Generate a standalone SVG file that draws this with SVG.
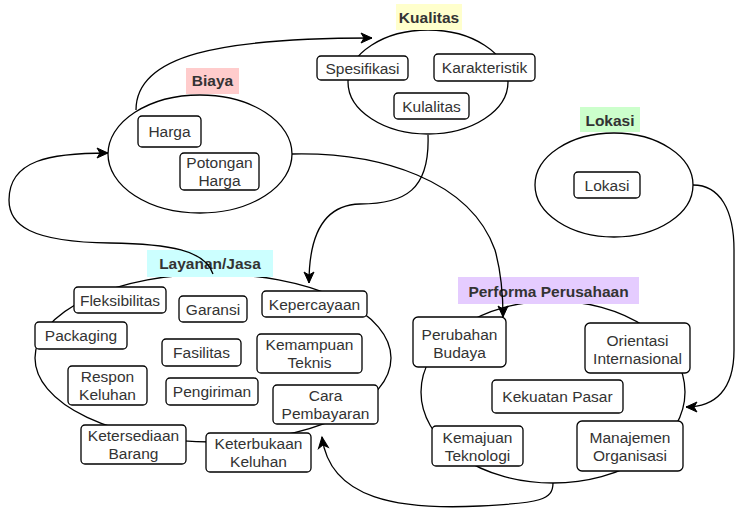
<svg xmlns="http://www.w3.org/2000/svg" width="735" height="510" viewBox="0 0 735 510">
<style>
.ell{fill:#fff;stroke:#000;stroke-width:1.3}
.box{fill:#fff;stroke:#000;stroke-width:1.3}
.t{font-family:"Liberation Sans",Arial,sans-serif;font-size:15.5px;fill:#333;text-anchor:middle}
.lb{font-family:"Liberation Sans",Arial,sans-serif;font-size:15.5px;font-weight:bold;fill:#333;text-anchor:middle}
.c{fill:none;stroke:#000;stroke-width:1.3}
</style>
<defs>
<marker id="ah" markerUnits="userSpaceOnUse" markerWidth="14" markerHeight="12" refX="11" refY="5" orient="auto" overflow="visible">
<path d="M0,0 L11,5 L0,10 L3,5 Z" fill="#000" stroke="#000" stroke-width="1"/>
</marker>
</defs>
<g id="biaya">
<ellipse class="ell" cx="200" cy="154" rx="92" ry="59"/>
<rect x="186" y="68" width="53" height="26" fill="#FFCCCC"/>
<text class="lb" x="212.5" y="86">Biaya</text>
</g>
<g id="kualitas">
<ellipse class="ell" cx="428" cy="82" rx="80" ry="52"/>
<rect x="396" y="4" width="66" height="26" fill="#FFFFCC"/>
<text class="lb" x="429" y="22.5">Kualitas</text>
</g>
<g id="lokasi">
<ellipse class="ell" cx="614" cy="185" rx="79" ry="52"/>
<rect x="580" y="107" width="60" height="25" fill="#CCFFCC"/>
<text class="lb" x="610" y="125.5">Lokasi</text>
</g>
<g id="layanan">
<ellipse class="ell" cx="213" cy="358" rx="178" ry="84"/>
<rect x="147" y="250" width="126" height="27" fill="#CCFFFF"/>
<text class="lb" x="210" y="268.5">Layanan/Jasa</text>
</g>
<g id="performa">
<ellipse class="ell" cx="553" cy="392" rx="132" ry="91"/>
<rect x="458" y="277" width="181" height="27" fill="#E5CCFF"/>
<text class="lb" x="548.5" y="296.5">Performa Perusahaan</text>
</g>
<g id="harga"><rect class="box" x="138" y="116" width="63" height="31" rx="4"/><text class="t" x="169.5" y="137">Harga</text></g>
<g id="potongan-harga"><rect class="box" x="180" y="153" width="79" height="37" rx="4"/><text class="t" x="219.5" y="168">Potongan</text><text class="t" x="219.5" y="186">Harga</text></g>
<g id="spesifikasi"><rect class="box" x="317" y="56" width="91" height="24" rx="4"/><text class="t" x="362.5" y="73.5">Spesifikasi</text></g>
<g id="karakteristik"><rect class="box" x="434" y="54" width="101" height="27" rx="4"/><text class="t" x="484.5" y="73">Karakteristik</text></g>
<g id="kulalitas"><rect class="box" x="394" y="93" width="75" height="26" rx="4"/><text class="t" x="431.5" y="111.5">Kulalitas</text></g>
<g id="lokasi-box"><rect class="box" x="574" y="172" width="66" height="26" rx="4"/><text class="t" x="607" y="190.5">Lokasi</text></g>
<g id="fleksibilitas"><rect class="box" x="74" y="287" width="92" height="26" rx="4"/><text class="t" x="120" y="305.5">Fleksibilitas</text></g>
<g id="garansi"><rect class="box" x="179" y="296" width="68" height="26" rx="4"/><text class="t" x="213" y="314.5">Garansi</text></g>
<g id="kepercayaan"><rect class="box" x="262" y="291" width="105" height="26" rx="4"/><text class="t" x="314.5" y="309.5">Kepercayaan</text></g>
<g id="packaging"><rect class="box" x="35" y="322" width="92" height="27" rx="4"/><text class="t" x="81" y="341">Packaging</text></g>
<g id="fasilitas"><rect class="box" x="162" y="339" width="79" height="27" rx="4"/><text class="t" x="201.5" y="358">Fasilitas</text></g>
<g id="kemampuan-teknis"><rect class="box" x="257" y="334" width="105" height="39" rx="4"/><text class="t" x="309.5" y="350">Kemampuan</text><text class="t" x="309.5" y="368">Teknis</text></g>
<g id="respon-keluhan"><rect class="box" x="68" y="366" width="79" height="39" rx="4"/><text class="t" x="107.5" y="382">Respon</text><text class="t" x="107.5" y="400">Keluhan</text></g>
<g id="pengiriman"><rect class="box" x="166" y="378" width="92" height="27" rx="4"/><text class="t" x="212" y="397">Pengiriman</text></g>
<g id="cara-pembayaran"><rect class="box" x="273" y="385" width="105" height="39" rx="4"/><text class="t" x="325.5" y="401">Cara</text><text class="t" x="325.5" y="419">Pembayaran</text></g>
<g id="ketersediaan-barang"><rect class="box" x="81" y="425" width="105" height="39" rx="4"/><text class="t" x="133.5" y="441">Ketersediaan</text><text class="t" x="133.5" y="459">Barang</text></g>
<g id="keterbukaan-keluhan"><rect class="box" x="206" y="433" width="105" height="39" rx="4"/><text class="t" x="258.5" y="449">Keterbukaan</text><text class="t" x="258.5" y="467">Keluhan</text></g>
<g id="perubahan-budaya"><rect class="box" x="413" y="317" width="93" height="50" rx="5"/><text class="t" x="459.5" y="339.5">Perubahan</text><text class="t" x="459.5" y="357.5">Budaya</text></g>
<g id="orientasi-internasional"><rect class="box" x="585" y="323" width="105" height="50" rx="5"/><text class="t" x="637.5" y="345.5">Orientasi</text><text class="t" x="637.5" y="363.5">Internasional</text></g>
<g id="kekuatan-pasar"><rect class="box" x="492" y="380" width="131" height="33" rx="4"/><text class="t" x="557.5" y="402">Kekuatan Pasar</text></g>
<g id="kemajuan-teknologi"><rect class="box" x="432" y="426" width="91" height="40" rx="4"/><text class="t" x="477.5" y="442.5">Kemajuan</text><text class="t" x="477.5" y="460.5">Teknologi</text></g>
<g id="manajemen-organisasi"><rect class="box" x="577" y="421" width="106" height="50" rx="5"/><text class="t" x="630" y="442.5">Manajemen</text><text class="t" x="630" y="460.5">Organisasi</text></g>
<g id="connectors">
<path class="c" d="M136,110 C136,55 220,38 372,38" marker-end="url(#ah)"/>
<path class="c" d="M428,135 C430,190 405,204 360,204 C318,205 309,245 309,283" marker-end="url(#ah)"/>
<path class="c" d="M292,154 C380,152 470,180 495,250 C502,275 503,300 503,317" marker-end="url(#ah)"/>
<path class="c" d="M213,274 C205,250 170,244 110,243 C30,242 9,225 9,200 C9,160 50,153 108,153" marker-end="url(#ah)"/>
<path class="c" d="M693,185 C720,185 734,210 734,250 L734,350 C734,390 715,407 686,407" marker-end="url(#ah)"/>
<path class="c" d="M553,483 C553,500 540,503 480,506 C400,510 330,500 322,437" marker-end="url(#ah)"/>
</g>
</svg>
